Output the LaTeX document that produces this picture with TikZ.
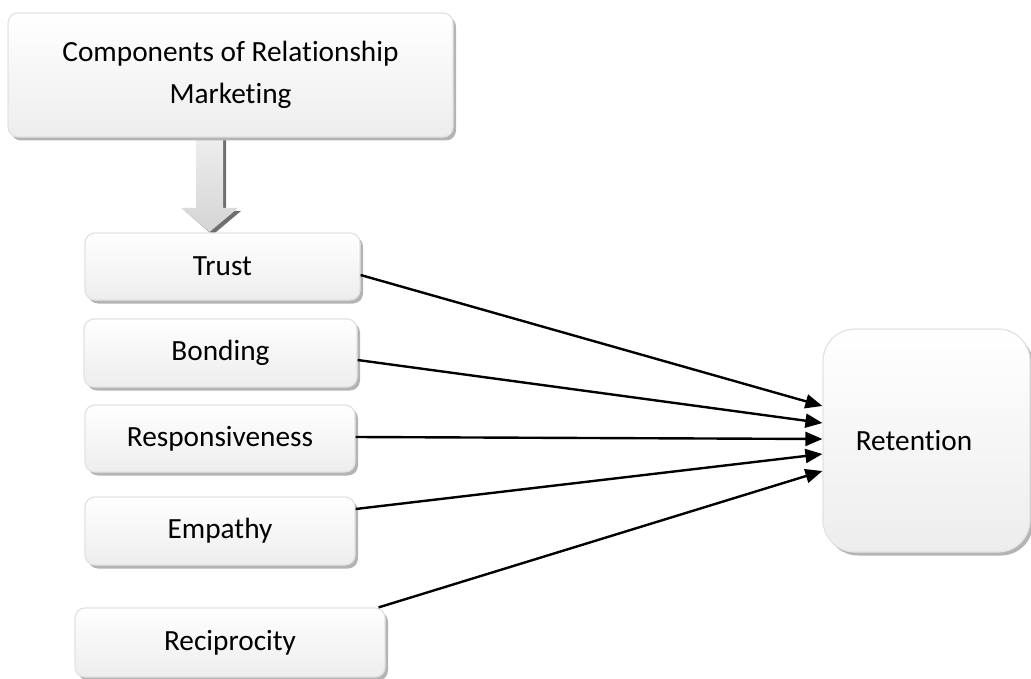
\documentclass[tikz,border=0pt]{standalone}
\usepackage{fontspec}
\setmainfont{Carlito}[Ligatures=NoCommon]
\usetikzlibrary{arrows.meta,shadows,calc}

\definecolor{boxedge}{HTML}{E2E2E2}
\definecolor{boxbottom}{HTML}{EDEDED}
\definecolor{shadowgray}{HTML}{B4B4B4}
\definecolor{arrowlight}{HTML}{EEEEEE}
\definecolor{arrowdark}{HTML}{D4D4D4}
\definecolor{arrowshadow}{HTML}{6E6E6E}

\tikzset{
  card/.style={
    draw=boxedge, line width=1.2pt, rounded corners=10pt,
    top color=white, bottom color=boxbottom,
    general shadow={shadow xshift=3pt, shadow yshift=-3.5pt, fill=shadowgray},
    font=\fontsize{29.3}{42}\selectfont, align=center, inner sep=0pt
  },
  link/.style={line width=2.4pt, -{Triangle[length=17pt,width=14pt]}}
}

\begin{document}
\begin{tikzpicture}[x=1pt, y=-1pt]
\useasboundingbox (0,0) rectangle (1031,679);

% block arrow from the heading down to the first component
\coordinate (atop) at (209.5,137);
\fill[arrowshadow] ($(atop)+(-10.5,3)$) -- ($(atop)+(16.5,3)$) -- ($(atop)+(16.5,74)$)
  -- ($(atop)+(31.5,74)$) -- ($(atop)+(3,98)$) -- ($(atop)+(-24.5,74)$)
  -- ($(atop)+(-10.5,74)$) -- cycle;
\shade[top color=arrowlight, bottom color=arrowdark]
  ($(atop)+(-13.5,0)$) -- ($(atop)+(13.5,0)$) -- ($(atop)+(13.5,71)$)
  -- ($(atop)+(28.5,71)$) -- ($(atop)+(0,95)$) -- ($(atop)+(-28.5,71)$)
  -- ($(atop)+(-13.5,71)$) -- cycle;

% boxes
\node[card, minimum width=445pt, minimum height=124pt] (comp) at (230.5,75)
  {Components of Relationship\\Marketing};
\node[card, minimum width=275pt, minimum height=67pt] (trust) at (222.5,266.5) {Trust};
\node[card, minimum width=273pt, minimum height=68pt] (bond) at (220.5,353) {Bonding};
\node[card, minimum width=270pt, minimum height=67pt] (resp) at (220,438.5) {Responsiveness};
\node[card, minimum width=270pt, minimum height=68pt] (emp) at (220,531) {Empathy};
\node[card, minimum width=310pt, minimum height=69pt] (recip) at (230,642.5) {Reciprocity};
\node[card, rounded corners=32pt, minimum width=207pt, minimum height=223pt] (ret)
  at (926.5,440.5) {Retention\hspace*{25pt}};

% connectors into Retention
\draw[link] ([yshift=-8.5pt]trust.east) -- ([yshift=34.5pt]ret.west);
\draw[link] ([yshift=-7pt]bond.east) -- ([yshift=17.5pt]ret.west);
\draw[link] ([yshift=1.5pt]resp.east) -- ([yshift=1.5pt]ret.west);
\draw[link] ([yshift=22pt]emp.east) -- ([yshift=-13.5pt]ret.west);
\draw[link] ([xshift=-7pt]recip.north east) -- ([yshift=-30.5pt]ret.west);
\end{tikzpicture}
\end{document}
